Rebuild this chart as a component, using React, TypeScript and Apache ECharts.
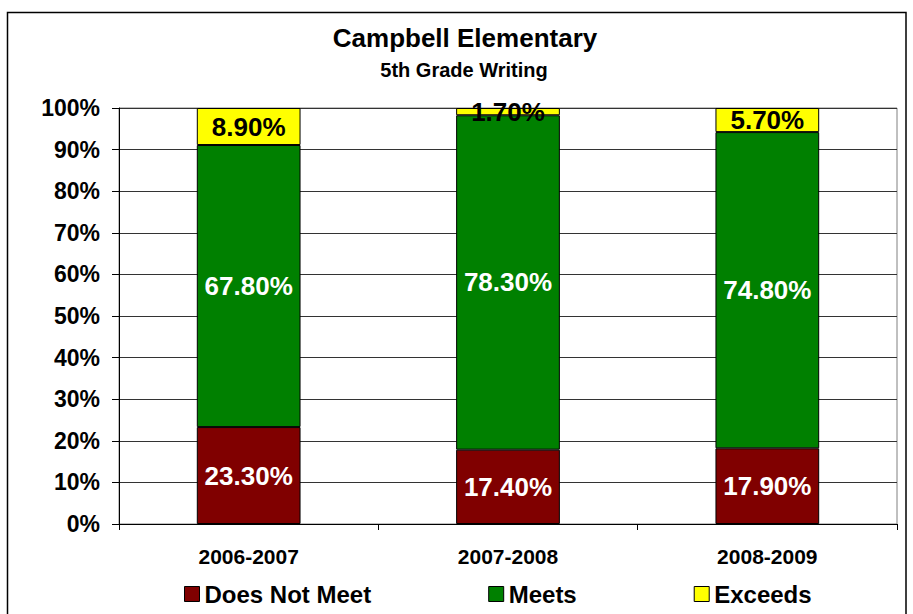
import React, { useEffect, useRef } from "react";
import * as echarts from "echarts";

const titleText = "Campbell Elementary";
const subtitleText = "5th Grade Writing";
const categories = ["2006-2007", "2007-2008", "2008-2009"];
const seriesNames = ["Does Not Meet", "Meets", "Exceeds"];
const doesNotMeet = [23.3, 17.4, 17.9];
const meets = [67.8, 78.3, 74.8];
const exceeds = [8.9, 1.7, 5.7];
const colors = ["#800000", "#008000", "#FFFF00"];
const labelColors = ["#ffffff", "#ffffff", "#000000"];

const FONT = "'Liberation Sans', Arial, sans-serif";

export default function App() {
  const ref = useRef<HTMLDivElement>(null);
  useEffect(() => {
    if (!ref.current) return;
    const chart = echarts.init(ref.current, null, { renderer: "svg" });
    const raw = [doesNotMeet, meets, exceeds];
    const totals = categories.map((_, i) => raw.reduce((s, arr) => s + arr[i], 0));
    const series = raw.map((arr, k) => ({
      name: seriesNames[k],
      type: "bar",
      stack: "total",
      barWidth: "40%",
      data: arr.map((v, i) => (v / totals[i]) * 100),
      itemStyle: { color: colors[k], borderColor: "#000", borderWidth: 1 },
      label: {
        show: true,
        position: "inside",
        color: labelColors[k],
        fontFamily: FONT,
        fontWeight: "bold",
        fontSize: 26,
        formatter: (p: any) => arr[p.dataIndex].toFixed(2) + "%",
      },
    }));
    chart.setOption({
      animation: false,
      backgroundColor: "#fff",
      textStyle: { fontFamily: FONT },
      graphic: [
        {
          type: "rect",
          shape: { x: 7.5, y: 12.5, width: 898.5, height: 640 },
          style: { fill: "none", stroke: "#000", lineWidth: 1.5 },
          z: -1,
        },
        {
          type: "text",
          x: 465,
          y: 38,
          style: {
            text: titleText,
            fontFamily: FONT,
            fontWeight: "bold",
            fontSize: 26,
            fill: "#000",
            textAlign: "center",
            textVerticalAlign: "middle",
          },
        },
        {
          type: "text",
          x: 464,
          y: 70,
          style: {
            text: subtitleText,
            fontFamily: FONT,
            fontWeight: "bold",
            fontSize: 20,
            fill: "#000",
            textAlign: "center",
            textVerticalAlign: "middle",
          },
        },
      ],
      grid: {
        left: 119,
        right: 16,
        top: 108,
        bottom: 90,
        show: true,
        borderColor: "#808080",
        borderWidth: 1,
      },
      legend: {
        left: 184,
        top: 582,
        padding: 0,
        itemWidth: 15,
        itemHeight: 15,
        itemGap: 117,
        icon: "rect",
        itemStyle: { borderColor: "#000", borderWidth: 1 },
        textStyle: { fontFamily: FONT, fontWeight: "bold", fontSize: 24, color: "#000" },
        data: seriesNames,
      },
      xAxis: {
        type: "category",
        data: categories,
        axisLine: { lineStyle: { color: "#000", width: 1 } },
        axisTick: { show: true, length: 6, lineStyle: { color: "#000" } },
        axisLabel: { fontFamily: FONT, fontWeight: "bold", fontSize: 21, color: "#000", margin: 22 },
      },
      yAxis: {
        type: "value",
        min: 0,
        max: 100,
        interval: 10,
        axisLine: { show: true, lineStyle: { color: "#000", width: 1 } },
        axisTick: { show: true, length: 7, lineStyle: { color: "#000" } },
        axisLabel: {
          formatter: "{value}%",
          fontFamily: FONT,
          fontWeight: "bold",
          fontSize: 23,
          color: "#000",
          margin: 19,
        },
        splitLine: { show: true, lineStyle: { color: "#333", width: 1 } },
      },
      series,
    });
    return () => chart.dispose();
  }, []);
  return (
    <div
      ref={ref}
      style={{ position: "fixed", left: 0, top: 0, width: 913, height: 614 }}
    />
  );
}
